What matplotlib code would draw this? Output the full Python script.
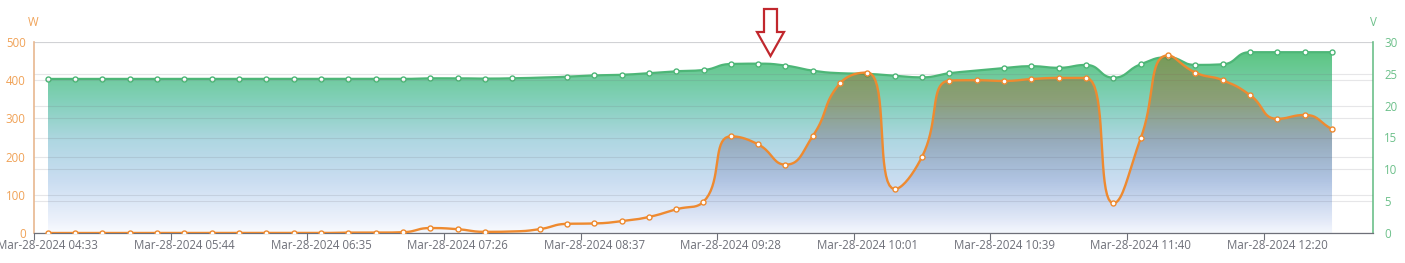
import matplotlib.pyplot as plt
import numpy as np
from matplotlib.patches import Polygon

plt.rcParams['font.family'] = ['Open Sans', 'DejaVu Sans']

# power (W, left axis) and voltage (V, right axis), one value per sample
watts = [0, 0, 0, 0, 0, 0, 0, 0, 0, 0, 0, 1, 1, 2, 13, 10, 3, 4, 10, 24,
         25, 31, 42, 62, 82, 253, 232, 179, 254, 392, 420, 115, 200, 399, 400, 398,
         403, 406, 406, 78, 248, 465, 420, 400, 361, 299, 309, 272]
volts = [24.2, 24.2, 24.2, 24.2, 24.2, 24.2, 24.2, 24.2, 24.2, 24.2, 24.2, 24.2,
         24.2, 24.2, 24.3, 24.3, 24.25, 24.3, 24.4, 24.55, 24.75, 24.85, 25.1, 25.4,
         25.6, 26.55, 26.6, 26.3, 25.5, 25.1, 25.0, 24.7, 24.45, 25.1, 25.5, 25.9,
         26.2, 25.95, 26.4, 24.4, 26.5, 27.6, 26.4, 26.5, 28.4, 28.4, 28.4, 28.4]
n_categories = 49
tick_index = [0, 5, 10, 15, 20, 25, 30, 35, 40, 45]
tick_labels = ["Mar-28-2024 04:33", "Mar-28-2024 05:44", "Mar-28-2024 06:35",
               "Mar-28-2024 07:26", "Mar-28-2024 08:37", "Mar-28-2024 09:28",
               "Mar-28-2024 10:01", "Mar-28-2024 10:39", "Mar-28-2024 11:40",
               "Mar-28-2024 12:20"]
hidden_w = [17]
hidden_v = [18, 29, 34]

orange = "#ee8a30"
green = "#4db677"
W, H = 1405, 263


def smooth_line(ax, xs, ys, smooth=0.5, n=20):
    # bezier smoothing in pixel space, control points clamped to neighbours
    pts = ax.transData.transform(np.column_stack([xs, ys]))
    N = len(pts)
    cps = []
    for i in range(N):
        p = pts[i]
        prev = pts[i - 1] if i > 0 else p
        nxt = pts[i + 1] if i < N - 1 else p
        v = nxt - prev
        l0 = np.hypot(*(p - prev))
        l1 = np.hypot(*(nxt - p))
        if l0 + l1 == 0:
            cps.append((p, p))
            continue
        r = l1 / (l0 + l1)
        cout = np.clip(p + v * smooth * r, np.minimum(p, nxt), np.maximum(p, nxt))
        if l0 > 0 and l1 > 0:
            cin = p - (cout - p) * l0 / l1
            cin = np.clip(cin, np.minimum(prev, p), np.maximum(prev, p))
            cout = p + (p - cin) * l1 / l0
        else:
            cin = np.clip(p - v * smooth * (1 - r), np.minimum(prev, p), np.maximum(prev, p))
        cps.append((cin, cout))
    t = np.linspace(0, 1, n)[:, None]
    segs = []
    for i in range(N - 1):
        p0, c1, c2, p3 = pts[i], cps[i][1], cps[i + 1][0], pts[i + 1]
        seg = (1 - t) ** 3 * p0 + 3 * (1 - t) ** 2 * t * c1 + 3 * (1 - t) * t ** 2 * c2 + t ** 3 * p3
        segs.append(seg if i == 0 else seg[1:])
    curve = ax.transData.inverted().transform(np.vstack(segs))
    return curve[:, 0], curve[:, 1]


def gradient_fill(ax, cx, cy, stops, zorder):
    top = cy.max()
    poly = np.vstack([np.column_stack([cx, cy]), [[cx[-1], 0], [cx[0], 0]]])
    patch = Polygon(poly, closed=True, facecolor="none", edgecolor="none")
    ax.add_patch(patch)
    f = np.linspace(0, 1, 256)
    pos = [s[0] for s in stops]
    img = np.zeros((256, 1, 4))
    for k in range(4):
        img[:, 0, k] = np.interp(f, pos, [s[1][k] for s in stops])
    im = ax.imshow(img, extent=[cx[0], cx[-1], 0, top], aspect="auto",
                   origin="upper", zorder=zorder, interpolation="bilinear")
    im.set_clip_path(patch)


def rgb(r, g, b, a=1.0):
    return (r / 255, g / 255, b / 255, a)


fig = plt.figure(figsize=(W / 100, H / 100), dpi=100)
ax = fig.add_axes([34 / W, 30 / H, 1339 / W, 191 / H])
ax2 = ax.twinx()
ax.set_zorder(2)
ax2.set_zorder(1)
ax.patch.set_visible(False)

x = np.arange(len(watts))
ax.set_xlim(-0.5, n_categories - 0.5)
ax.set_ylim(0, 500)
ax2.set_ylim(0, 30)

# voltage: green area with gradient
vx, vy = smooth_line(ax2, x, volts)
gradient_fill(ax2, vx, vy, [
    (0.0, rgb(92, 196, 132)),
    (0.05, rgb(100, 200, 140)),
    (0.265, rgb(130, 208, 185)),
    (0.49, rgb(175, 215, 226)),
    (0.71, rgb(202, 221, 241)),
    (0.93, rgb(236, 241, 251)),
    (1.0, rgb(249, 251, 255)),
], zorder=0.1)
ax2.plot(vx, vy, color=green, lw=1.6, zorder=3)
show_v = [i for i in range(len(volts)) if i not in hidden_v]
ax2.plot(x, volts, "o", ms=3.6, mfc="white", mec=green, mew=1.0,
         markevery=show_v, zorder=4)

# power: orange line with tinted area (orange to blue)
wx, wy = smooth_line(ax, x, watts)
gradient_fill(ax, wx, wy, [
    (0.0, rgb(165, 80, 10, 0.36)),
    (0.25, rgb(160, 70, 0, 0.35)),
    (0.48, rgb(95, 68, 95, 0.30)),
    (0.70, rgb(75, 95, 165, 0.20)),
    (1.0, rgb(110, 140, 220, 0.03)),
], zorder=1)
ax.plot(wx, wy, color=orange, lw=1.7, zorder=3)
show_w = [i for i in range(len(watts)) if i not in hidden_w]
ax.plot(x, watts, "o", ms=3.6, mfc="white", mec=orange, mew=1.0,
        markevery=show_w, zorder=4)

# grids
grid_kw = dict(color="#6e7079", alpha=0.17, lw=0.8)
ax.set_axisbelow(True)
ax2.set_axisbelow(True)
ax.set_yticks(range(0, 501, 100))
ax2.set_yticks(range(0, 31, 5))
ax.yaxis.grid(True, **grid_kw)
ax2.yaxis.grid(True, **grid_kw)

# x axis: ticks on category boundaries, labels on categories
ax.set_xticks([i - 0.5 for i in tick_index])
ax.set_xticklabels([])
ax.set_xticks(tick_index, minor=True)
ax.set_xticklabels(tick_labels, minor=True)
ax.tick_params(axis="x", which="major", length=5, width=0.8, color="#6e7079")
ax.tick_params(axis="x", which="minor", length=0, pad=4, labelsize=8.3,
               labelcolor="#6e7079")
ax2.tick_params(axis="x", which="both", length=0)

ax.tick_params(axis="y", length=0, pad=6, labelsize=8.3, labelcolor="#f0a257")
ax2.tick_params(axis="y", length=0, pad=8, labelsize=8.3, labelcolor="#6cc08a")

for a in (ax, ax2):
    a.spines["top"].set_visible(False)
ax.spines["right"].set_visible(False)
ax2.spines["left"].set_visible(False)
ax2.spines["bottom"].set_visible(False)
ax.spines["left"].set_color("#e8b890")
ax.spines["left"].set_linewidth(1.2)
ax2.spines["right"].set_color("#6cc08a")
ax2.spines["right"].set_linewidth(1.2)
ax.spines["bottom"].set_color("#6e7079")
ax.spines["bottom"].set_linewidth(0.9)

fig.text(33 / W, 1 - 22 / H, "W", color="#f0a257", fontsize=8.3, ha="center", va="center")
fig.text(1373 / W, 1 - 22 / H, "V", color="#6cc08a", fontsize=8.3, ha="center", va="center")

# hollow red arrow
arrow_px = [(764, 9), (777, 9), (777, 32), (784, 32), (770.5, 56), (757, 32), (764, 32)]
arrow = Polygon([(px / W, 1 - py / H) for px, py in arrow_px], closed=True,
                transform=fig.transFigure, facecolor="white", edgecolor="#c1272d",
                lw=1.6, joinstyle="miter")
fig.patches.append(arrow)

fig.savefig("out.png", dpi=100)
